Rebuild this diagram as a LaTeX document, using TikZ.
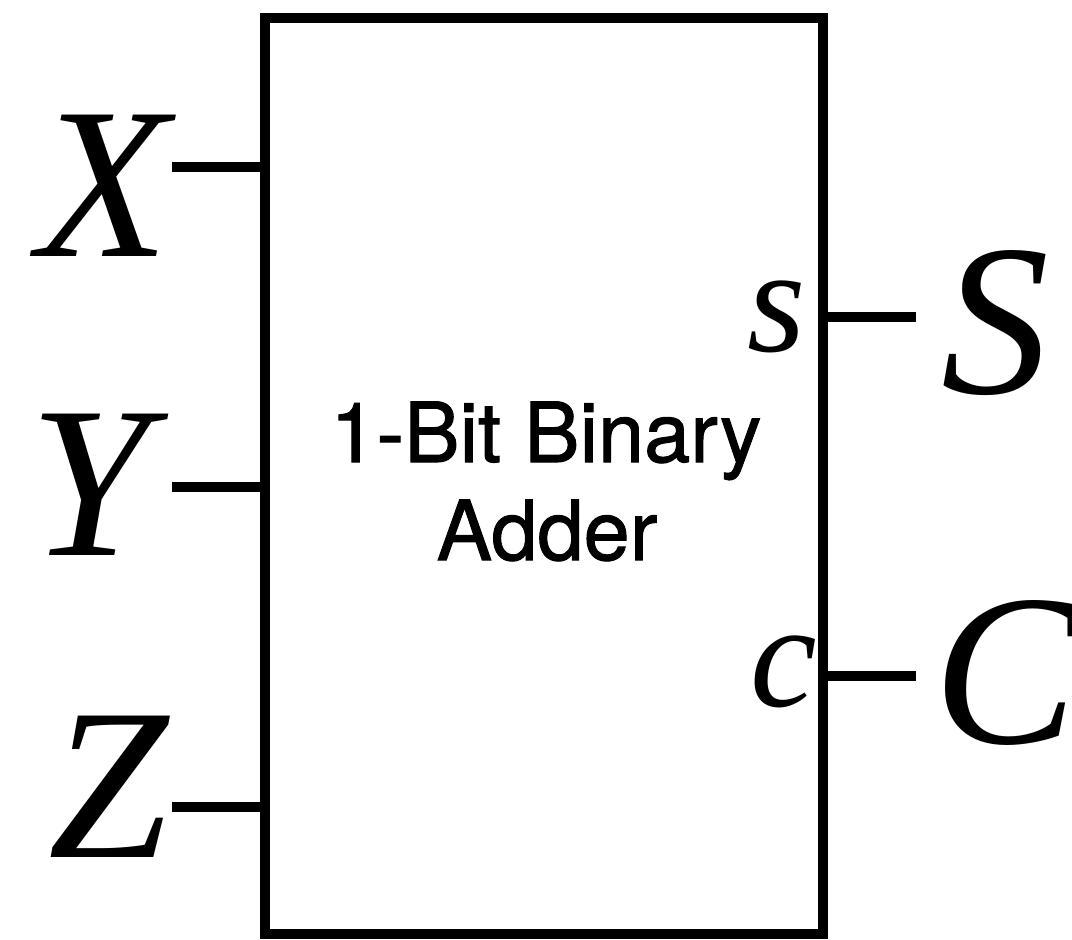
\documentclass[tikz,border=0pt]{standalone}
\usepackage{fontspec}
\newfontface\seritalic{Liberation Serif Italic}
\newfontfamily\labfont[FakeBold=1.2]{TeX Gyre Heros}
\begin{document}
\begin{tikzpicture}[x=1pt,y=-1pt]
\tikzset{
  big/.style={inner sep=0pt, anchor=base, font=\seritalic\fontsize{216}{216}\selectfont},
  small/.style={inner sep=0pt, anchor=base, font=\seritalic\fontsize{150}{150}\selectfont},
  wire/.style={line width=10pt},
  blockbox/.style={draw, line width=10pt, minimum width=558pt, minimum height=916pt, inner sep=0pt},
  lbl/.style={inner sep=0pt, anchor=base, font=\labfont\fontsize{83}{98}\selectfont}
}
\useasboundingbox (0,0) rectangle (1072,940);
\node[blockbox] (box) at (544,476) {};
\node[lbl] (l1) at (546,462) {1-Bit Binary};
\node[lbl] (l2) at (547,560) {Adder};
\node[big] (X) at (103,256) {X};
\node[big] (Y) at (90,555) {Y};
\node[big] (Z) at (109,857) {Z};
\node[big] (S) at (995,393) {S};
\node[big] (C) at (1006,743) {C};
\node[small] (s) at (777,351) {s};
\node[small] (c) at (784,706) {c};
\coordinate (xe) at (172,167);
\coordinate (ye) at (172,487);
\coordinate (ze) at (172,807);
\coordinate (se) at (916,317);
\coordinate (ce) at (916,676);
\draw[wire] (xe) -- (xe -| box.west);
\draw[wire] (ye) -- (ye -| box.west);
\draw[wire] (ze) -- (ze -| box.west);
\draw[wire] (se -| box.east) -- (se);
\draw[wire] (ce -| box.east) -- (ce);
\end{tikzpicture}
\end{document}
